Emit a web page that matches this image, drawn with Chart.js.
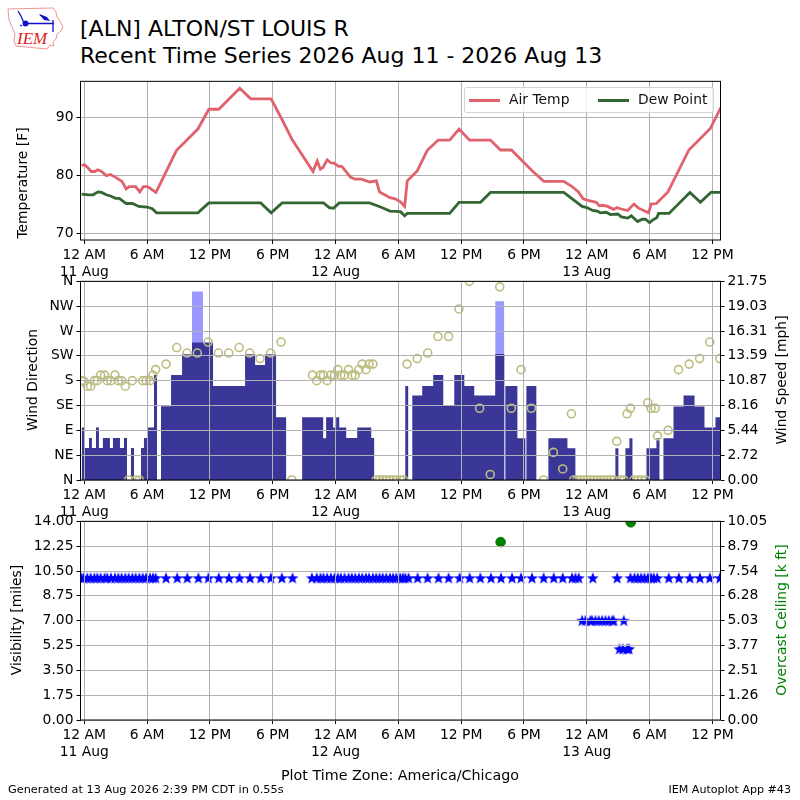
<!DOCTYPE html>
<html>
<head>
<meta charset="utf-8">
<title>ALN recent time series</title>
<script src="https://cdn.jsdelivr.net/npm/chart.js@4/dist/chart.umd.min.js"></script>
<style>
html, body { margin: 0; padding: 0; background: #fff; }
#page { position: relative; width: 800px; height: 800px; overflow: hidden; font-family: "DejaVu Sans", sans-serif; color: #000; }
#page canvas { position: absolute; left: 0; }
.txt { position: absolute; white-space: nowrap; line-height: 1; }
.ylab { position: absolute; white-space: nowrap; font-size: 13.89px; line-height: 1; transform: translate(-50%, -50%) rotate(-90deg); }
#legend { position: absolute; left: 464px; top: 87px; width: 248px; height: 24px; box-sizing: content-box; background: rgba(255,255,255,0.8); border: 1px solid #d5d5d5; border-radius: 3px; font-size: 13.89px; }
#legend i { position: absolute; top: 11px; width: 31px; height: 3px; }
#legend span { position: absolute; top: 5px; line-height: 1; color: #111; }
</style>
</head>
<body>
<div id="page">
  <svg style="position:absolute;left:0;top:0" width="75" height="55" viewBox="0 0 75 55">
    <path d="M8 9 L53 8 L56 12 L57 17 L60 21 L63 27 L61 31 L57 34 L56 39 L53 42 L54 46 L50 45 L47 49 L16 46 L14 41 L15 34 L12 27 L9 20 Z" fill="#fff" stroke="#e88" stroke-width="0.9"/>
    <path d="M18 11 L21 16 L24 23 M26 23.5 L54 23.5 M40 15 L48 19 M53 20 L53 32 M20 25 L22 26" stroke="#11c" stroke-width="1.3" fill="none"/>
    <path d="M39 14 L47 17 L50 21 L44 20 Z" fill="#11c"/>
    <circle cx="25.5" cy="23.5" r="3" fill="#11c"/>
    <text x="17" y="44" font-family="Liberation Serif, serif" font-style="italic" font-size="17" fill="#d22">IEM</text>
  </svg>
  <div class="txt" style="left:80px;top:18px;font-size:22px">[ALN] ALTON/ST LOUIS R</div>
  <div class="txt" style="left:80px;top:45px;font-size:22px">Recent Time Series 2026 Aug 11 - 2026 Aug 13</div>

  <canvas id="tempChart" width="800" height="230" style="top:70px"></canvas>
  <canvas id="windChart" width="800" height="260" style="top:270px"></canvas>
  <canvas id="visChart" width="800" height="270" style="top:510px"></canvas>

  <div id="legend">
    <i style="left:4px;background:#e0626c"></i><span style="left:44px">Air Temp</span>
    <i style="left:133px;background:#336633"></i><span style="left:173px">Dew Point</span>
  </div>

  <div class="ylab" style="left:23px;top:183px">Temperature [F]</div>
  <div class="ylab" style="left:33px;top:380px">Wind Direction</div>
  <div class="ylab" style="left:782px;top:380px">Wind Speed [mph]</div>
  <div class="ylab" style="left:17px;top:620px">Visibility [miles]</div>
  <div class="ylab" style="left:782px;top:620px;color:#008000">Overcast Ceiling [k ft]</div>

  <div class="txt" style="left:400px;top:768px;font-size:14.3px;transform:translateX(-50%)">Plot Time Zone: America/Chicago</div>
  <div class="txt" style="left:8px;top:784px;font-size:11.3px">Generated at 13 Aug 2026 2:39 PM CDT in 0.55s</div>
  <div class="txt" style="right:9px;top:784px;font-size:11.1px">IEM Autoplot App #43</div>
</div>

<script>
// all times are hours after 12 AM on 11 Aug
const xTicks = [0, 6, 12, 18, 24, 30, 36, 42, 48, 54, 60];
const xTickLabels = [['12 AM', '11 Aug'], '6 AM', '12 PM', '6 PM', ['12 AM', '12 Aug'], '6 AM', '12 PM', '6 PM', ['12 AM', '13 Aug'], '6 AM', '12 PM'];

const tempHours = [-0.25, 0, 0.25, 0.67, 1, 1.3, 1.65, 2.1, 2.5, 3, 3.6, 4, 4.3, 4.9, 5.3, 5.65, 6.05, 6.85, 8.8, 10.85, 11.9, 12.85, 14.85, 15.9, 17.85, 18.9, 19.85, 21.85, 22.25, 22.55, 22.8, 23.2, 23.55, 23.9, 24.3, 24.6, 25.45, 25.85, 26.5, 27.25, 27.9, 28.2, 28.6, 29.2, 29.7, 30.2, 30.6, 30.85, 31.8, 32.75, 33.8, 34.9, 35.8, 36.8, 38.8, 39.75, 40.8, 42.8, 43.9, 45.8, 46.6, 47.2, 47.65, 48.2, 48.9, 49.2, 49.5, 50, 50.55, 50.9, 51.2, 51.9, 52.5, 52.95, 53.9, 54.15, 54.65, 55.75, 57.75, 59.8, 60.8];
const airTemp = [81.7, 81.9, 81.5, 80.7, 80.7, 81, 80.7, 80, 80.2, 79.7, 79, 77.7, 78.1, 78.1, 77.2, 78.1, 78.1, 77.1, 84.3, 88, 91.4, 91.4, 95, 93.2, 93.2, 89.6, 86.2, 80.7, 82.5, 81.1, 81.4, 82.7, 82.2, 82.1, 81.6, 81.6, 79.7, 79.4, 79.4, 78.9, 79.1, 77.2, 76.8, 76.2, 76, 75.5, 74.7, 79.1, 80.8, 84.3, 86.1, 86.1, 88, 86.1, 86.1, 84.4, 84.4, 80.8, 79, 79, 78.1, 77.2, 76, 75.7, 75.4, 74.8, 74.9, 74.7, 74.2, 74.5, 74.3, 74, 75.1, 74.4, 73.6, 75.1, 75.2, 77.2, 84.4, 88.1, 91.7];

const dewHours = [-0.25, 0.4, 0.85, 1.3, 1.65, 2.1, 2.5, 3, 3.35, 4, 4.6, 5.2, 6, 6.5, 6.9, 10.85, 11.9, 16.85, 17.85, 18.9, 22.85, 23.4, 23.8, 24.35, 27.25, 28.3, 29.2, 30.2, 30.6, 30.85, 34.9, 35.8, 37.85, 38.8, 45.8, 47.55, 48, 48.55, 49, 49.3, 49.85, 50.25, 50.95, 51.3, 51.9, 52.25, 52.85, 53.3, 53.6, 54, 54.25, 54.7, 54.85, 55.85, 57.85, 58.85, 59.85, 60.8];
const dewPoint = [76.8, 76.7, 76.7, 77.2, 77.1, 76.7, 76.5, 76.1, 76.1, 75.2, 75.2, 74.7, 74.6, 74.3, 73.6, 73.6, 75.3, 75.3, 73.6, 75.3, 75.3, 74.5, 74.4, 75.3, 75.3, 74.6, 73.9, 73.8, 73.1, 73.5, 73.5, 75.4, 75.4, 77.1, 77.1, 74.7, 74.5, 74, 73.9, 73.6, 73.7, 73.3, 73.4, 72.9, 72.7, 73.1, 72.1, 72.5, 72.5, 71.9, 72.3, 72.8, 73.5, 73.5, 77.1, 75.4, 77.1, 77.1];

// each speed holds from its hour until the next hour in the list
const speedHours = [-0.25, -0.03, 0.45, 0.73, 1.12, 1.4, 1.78, 2.45, 2.74, 3.41, 3.79, 4.08, 4.46, 4.75, 5.42, 5.7, 6.09, 6.66, 6.95, 7.33, 8.29, 9.34, 10.29, 11.34, 12.3, 15.36, 16.32, 17.27, 18.32, 19.28, 20.81, 22.82, 23.1, 23.77, 24.06, 24.35, 25.02, 26.07, 27.41, 27.69, 30.66, 30.94, 31.33, 32.28, 33.33, 34.29, 35.34, 36.3, 37.25, 39.26, 40.12, 40.22, 41.37, 42.13, 42.23, 43.18, 44.33, 46.15, 46.91, 50.73, 51.02, 51.69, 52.07, 52.36, 53.7, 54.65, 54.94, 55.32, 56.28, 57.24, 58.29, 59.24, 60.29, 60.84];
const windSpeed = [5.76, 3.5, 4.6, 3.5, 5.76, 3.5, 4.6, 3.5, 4.6, 3.5, 4.6, 0, 3.5, 0, 3.5, 4.6, 5.76, 11.5, 0, 8.08, 11.5, 13.77, 15.04, 15.04, 10.3, 13.77, 12.6, 13.77, 6.88, 0, 6.88, 4.56, 6.88, 5.76, 6.88, 5.76, 4.6, 5.76, 4.6, 0, 10.3, 0, 9.24, 10.3, 11.5, 8.15, 11.5, 10.3, 9.24, 13.8, 0, 10.3, 4.56, 0, 10.3, 0, 4.56, 3.48, 0, 3.48, 0, 3.48, 4.56, 0, 3.48, 4.56, 0, 4.56, 8.04, 9.24, 8.04, 5.76, 6.88, 6.88];
const gustHours = [10.29, 11.34, 39.26, 40.12];
const windGust = [20.65, 0, 19.57, 0];

const dirHours = [-0.25, -0.03, 0.29, 0.61, 0.96, 1.24, 1.56, 1.94, 2.2, 2.55, 2.93, 3.25, 3.57, 3.92, 4.24, 4.59, 4.91, 5.26, 5.58, 5.9, 6.28, 6.56, 6.82, 7.81, 8.83, 9.82, 10.8, 11.82, 12.81, 13.8, 14.79, 15.8, 16.79, 17.81, 18.8, 19.82, 21.8, 22.2, 22.56, 22.85, 23.2, 23.55, 23.9, 24.22, 24.5, 24.86, 25.24, 25.56, 25.88, 26.23, 26.55, 26.9, 27.2, 27.57, 27.88, 28.2, 28.5, 28.84, 29.2, 29.5, 29.8, 30.18, 30.5, 30.82, 31.8, 32.8, 33.78, 34.8, 35.79, 36.78, 37.76, 38.78, 39.68, 40.79, 41.72, 42.7, 43.88, 44.81, 45.7, 46.53, 46.75, 47.07, 47.39, 47.71, 48.03, 48.34, 48.66, 48.98, 49.3, 49.62, 49.94, 50.26, 50.57, 50.86, 51.21, 51.53, 51.85, 52.17, 52.49, 52.87, 53.25, 53.6, 53.83, 54.14, 54.53, 54.75, 55.77, 56.76, 57.78, 58.77, 59.75, 60.71];
const windDir = [180, 179, 170, 170, 180, 180, 190, 190, 180, 180, 190, 180, 180, 170, 0, 180, 0, 0, 180, 180, 180, 190, 200, 210, 240, 230, 230, 250, 230, 230, 240, 230, 220, 230, 250, 0, 190, 180, 190, 190, 180, 190, 190, 200, 190, 190, 200, 190, 190, 200, 210, 200, 210, 210, 0, 0, 0, 0, 0, 0, 0, 0, 0, 210, 220, 230, 260, 260, 310, 360, 130, 10, 350, 130, 200, 130, 0, 50, 20, 120, 0, 0, 0, 0, 0, 0, 0, 0, 0, 0, 0, 0, 0, 70, 0, 0, 120, 130, 0, 0, 0, 0, 140, 130, 130, 80, 90, 200, 210, 220, 250, 220];

const vis10Hours = [-0.25, -0.03, 0.29, 0.61, 0.96, 1.24, 1.56, 1.94, 2.2, 2.55, 2.93, 3.25, 3.57, 3.92, 4.24, 4.59, 4.91, 5.26, 5.58, 5.9, 6.28, 6.56, 6.82, 7.81, 8.88, 9.84, 10.9, 11.86, 12.85, 13.83, 14.82, 15.84, 16.86, 17.82, 18.87, 19.89, 21.74, 22.2, 22.56, 22.85, 23.2, 23.55, 23.9, 24.22, 24.5, 24.86, 25.24, 25.56, 25.88, 26.23, 26.55, 26.9, 27.2, 27.57, 27.88, 28.2, 28.5, 28.84, 29.2, 29.5, 29.8, 30.18, 30.43, 30.66, 30.98, 31.84, 32.79, 33.84, 34.8, 35.85, 36.81, 37.83, 38.85, 39.8, 40.86, 41.72, 42.77, 43.88, 44.84, 45.7, 46.59, 46.91, 47.23, 48.57, 50.9, 52.17, 52.55, 52.87, 53.19, 53.51, 53.83, 54.14, 54.4, 54.72, 55.83, 56.79, 57.84, 58.8, 59.75, 60.71];
const vis7Hours = [47.55, 47.87, 48.34, 48.5, 48.82, 49.14, 49.46, 49.78, 50.1, 50.42, 50.57, 51.53];
const vis5Hours = [51.12, 51.44, 51.85, 52.04];
const ceilingHours = [39.77, 52.2];
const ceilingValues = [9, 10];

const tempTicks = [70, 80, 90];
const dirTicks = [0, 45, 90, 135, 180, 225, 270, 315, 360];
const dirLabels = ['N', 'NE', 'E', 'SE', 'S', 'SW', 'W', 'NW', 'N'];
const speedTicks = [0, 2.72, 5.44, 8.16, 10.87, 13.59, 16.31, 19.03, 21.75];
const visTicks = [0, 1.75, 3.5, 5.25, 7, 8.75, 10.5, 12.25, 14];
const ceilTicks = [0, 1.26, 2.51, 3.77, 5.03, 6.28, 7.54, 8.79, 10.05];

const FONT = {family: '"DejaVu Sans", sans-serif', size: 13.89, lineHeight: 1.2};
const GRID = '#b0b0b0';

function xy(xs, ys) { return xs.map((x, i) => ({x: x, y: ys[i]})); }
function constant(xs, v) { return xs.map(x => ({x: x, y: v})); }

// box round the plot, matplotlib style
const framePlugin = {
    id: 'frame',
    afterDraw(chart) {
        const a = chart.chartArea, c = chart.ctx;
        c.save();
        c.strokeStyle = '#000';
        c.lineWidth = 1;
        c.strokeRect(a.left, a.top, a.right - a.left, a.bottom - a.top);
        c.restore();
    }
};

function xScale(height, gridZ) {
    return {
        type: 'linear', min: -0.36, max: 60.77,
        border: {display: false},
        grid: {color: GRID, tickColor: '#000', tickLength: 4, z: gridZ},
        ticks: {
            color: '#000', font: FONT, padding: 3, autoSkip: false, maxRotation: 0,
            callback: (v, i) => xTickLabels[i]
        },
        afterBuildTicks: s => { s.ticks = xTicks.map(v => ({value: v})); },
        afterFit: s => { s.height = height; }
    };
}

function yScale(pos, min, max, ticks, fmt, gridZ, showGrid) {
    return {
        type: 'linear', position: pos, min: min, max: max,
        border: {display: false},
        grid: {color: GRID, tickColor: '#000', tickLength: 4, z: gridZ, drawOnChartArea: showGrid},
        ticks: {color: '#000', font: FONT, padding: 3, autoSkip: false, callback: fmt},
        afterBuildTicks: s => { s.ticks = ticks.map(v => ({value: v})); },
        afterFit: s => { s.width = pos === 'left' ? 80.5 : 79.5; }
    };
}

const baseOptions = pad => ({
    responsive: false, animation: false, devicePixelRatio: 1,
    layout: {padding: pad},
    plugins: {legend: {display: false}, tooltip: {enabled: false}},
    elements: {point: {radius: 0}}
});

// temperature panel
new Chart(document.getElementById('tempChart'), {
    type: 'line',
    data: {datasets: [
        {label: 'Air Temp', data: xy(tempHours, airTemp), borderColor: '#e0626c', borderWidth: 2.8, tension: 0, yAxisID: 'y'},
        {label: 'Dew Point', data: xy(dewHours, dewPoint), borderColor: '#336633', borderWidth: 2.8, tension: 0, yAxisID: 'y'}
    ]},
    options: Object.assign(baseOptions({top: 10, right: 79.5, left: 0, bottom: 0}), {
        scales: {
            x: xScale(60, -1),
            y: yScale('left', 68.93, 96.2, tempTicks, v => String(v), -1, true)
        }
    }),
    plugins: [framePlugin]
});

// wind panel, first dataset ends up on top
new Chart(document.getElementById('windChart'), {
    type: 'line',
    data: {datasets: [
        {label: 'Wind Direction', data: xy(dirHours, windDir), showLine: false, pointRadius: 4, pointBorderWidth: 1.6, pointBorderColor: '#bdbd80', pointBackgroundColor: 'rgba(0,0,0,0)', clip: 0, yAxisID: 'y'},
        {label: 'Wind Speed', data: xy(speedHours, windSpeed), stepped: true, borderWidth: 0, fill: 'origin', backgroundColor: '#3a3798', yAxisID: 'y2'},
        {label: 'Wind Gust', data: xy(gustHours, windGust), stepped: true, borderWidth: 0, fill: 'origin', backgroundColor: '#9999ff', yAxisID: 'y2'}
    ]},
    options: Object.assign(baseOptions({top: 10, right: 0, left: 0, bottom: 0}), {
        scales: {
            x: xScale(50, 1),
            y: yScale('left', 0, 360, dirTicks, (v, i) => dirLabels[i], 1, true),
            y2: yScale('right', 0, 21.75, speedTicks, v => v.toFixed(2), 1, false)
        }
    }),
    plugins: [framePlugin]
});

// star marker for the visibility rows
function starSprite() {
    const c = document.createElement('canvas');
    c.width = 14; c.height = 14;
    const g = c.getContext('2d');
    g.fillStyle = '#0000ff';
    g.beginPath();
    for (let i = 0; i < 10; i++) {
        const r = i % 2 ? 2.6 : 6.3;
        const a = -Math.PI / 2 + i * Math.PI / 5;
        g[i ? 'lineTo' : 'moveTo'](7 + r * Math.cos(a), 7.4 + r * Math.sin(a));
    }
    g.closePath();
    g.fill();
    return c;
}
const star = starSprite();

function starSet(label, hours, miles) {
    return {label: label, data: constant(hours, miles), showLine: false, pointStyle: star, pointRadius: 6, clip: 0, yAxisID: 'y'};
}

// visibility and ceiling panel
new Chart(document.getElementById('visChart'), {
    type: 'line',
    data: {datasets: [
        {label: 'Overcast Ceiling', data: xy(ceilingHours, ceilingValues), showLine: false, pointRadius: 4.8, pointBackgroundColor: '#008000', pointBorderColor: '#008000', clip: 0, yAxisID: 'y2'},
        starSet('Visibility 10', vis10Hours, 10),
        starSet('Visibility 7', vis7Hours, 7),
        starSet('Visibility 5', vis5Hours, 5)
    ]},
    options: Object.assign(baseOptions({top: 10, right: 0, left: 0, bottom: 0}), {
        scales: {
            x: xScale(60, 1),
            y: yScale('left', 0, 14, visTicks, v => v.toFixed(2), 1, true),
            y2: yScale('right', 0, 10.05, ceilTicks, v => v.toFixed(2), 1, false)
        }
    }),
    plugins: [framePlugin]
});
</script>
</body>
</html>
